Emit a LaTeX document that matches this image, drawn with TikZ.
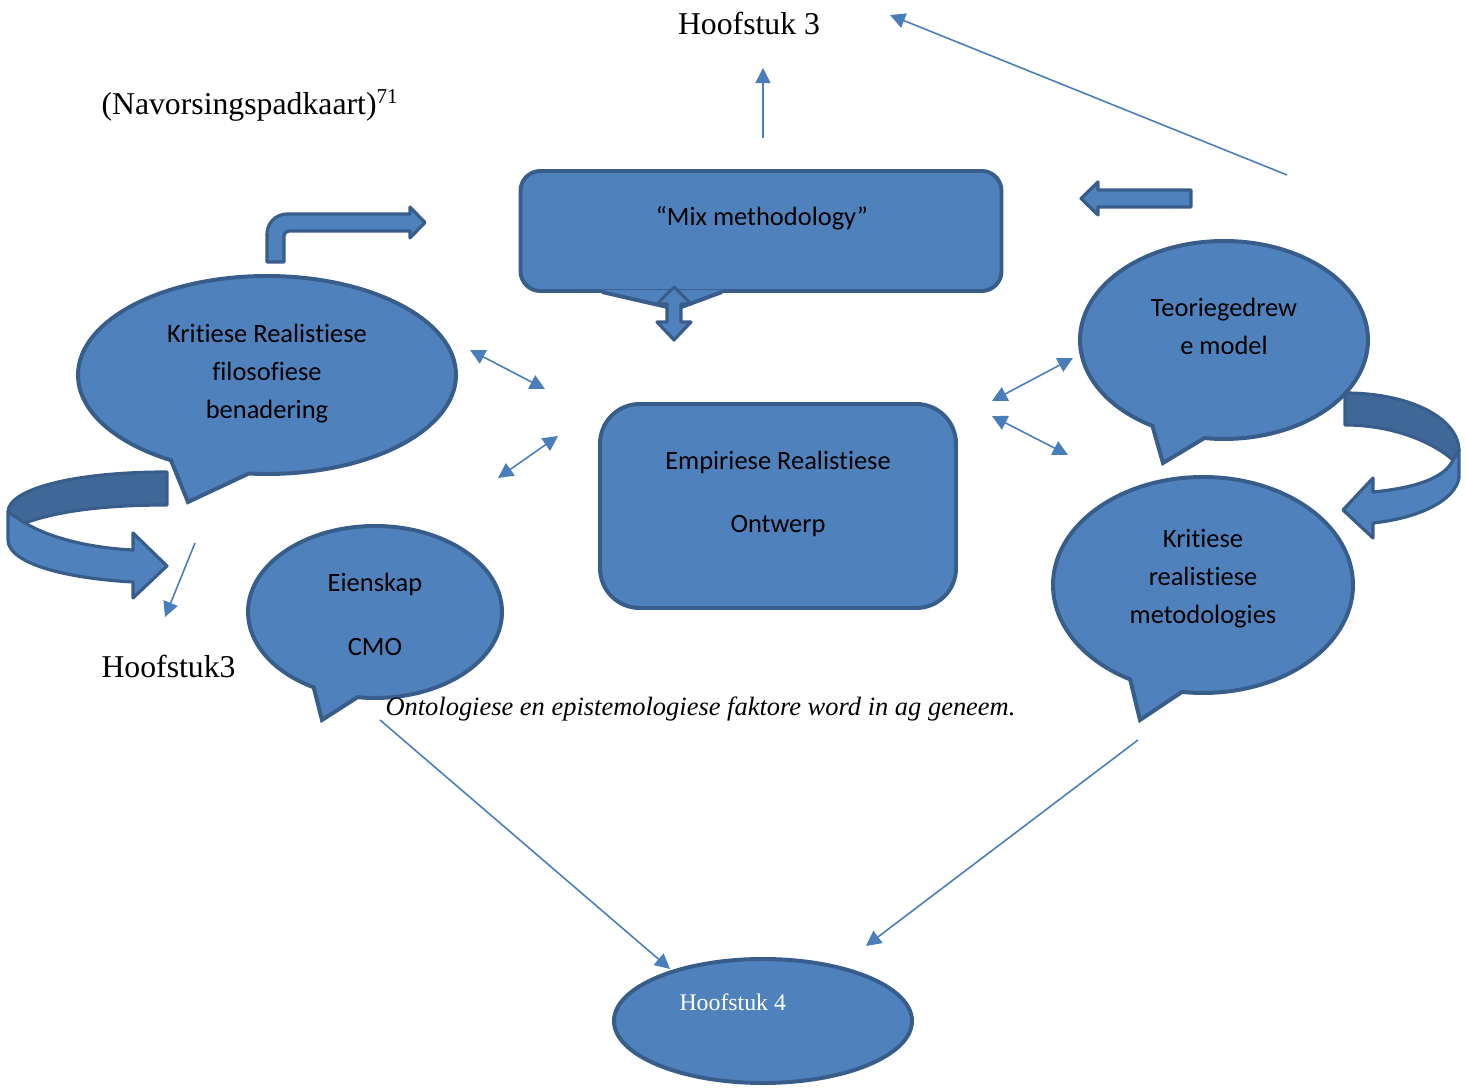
\documentclass[tikz,border=0pt]{standalone}
\usepackage{fontspec}
\setmainfont{Liberation Serif}
\newfontfamily\calibri[Ligatures={NoCommon,NoContextual}]{Carlito}
\usetikzlibrary{arrows.meta,positioning,shapes.geometric,shapes.callouts}
\definecolor{bodyblue}{HTML}{4F81BD}
\definecolor{edgeblue}{HTML}{385D8A}
\definecolor{foldblue}{HTML}{3F6899}
\definecolor{lineblue}{HTML}{4A7EBB}
\newcommand{\px}[1]{#1*0.378pt}
\tikzset{
	-tri/.style={draw=lineblue,line width=0.6pt,-{Triangle[length=5.7pt,width=5.7pt]}},
	tritri/.style={draw=lineblue,line width=0.6pt,{Triangle[length=5.7pt,width=5.7pt]}-{Triangle[length=5.7pt,width=5.7pt]}},
	blob/.style={draw=edgeblue,fill=bodyblue,line width=1.5pt},
	bubble/.style={blob,ellipse callout,inner sep=0pt},
	box/.style={blob,rectangle,inner sep=0pt},
	fold/.style={draw=edgeblue,fill=foldblue,line width=1.2pt,line join=round},
	band/.style={draw=edgeblue,fill=bodyblue,line width=1.2pt,line join=round},
	txt/.style={font=\calibri\fontsize{10}{14.4}\selectfont,align=center},
	serif/.style={font=\fontsize{12}{14}\selectfont,inner sep=0pt}
}
\begin{document}
\begin{tikzpicture}[x=0.378pt,y=-0.378pt]
			\useasboundingbox (0,0) rectangle (1466,1088);
			% speech bubbles and boxes
			\node[bubble,minimum width=\px{378},minimum height=\px{198},callout absolute pointer={(188,502)},callout pointer arc=25] (krit) at (267,375) {};
			\node[bubble,minimum width=\px{254},minimum height=\px{172},callout absolute pointer={(322,720)},callout pointer arc=21] (eien) at (375,612) {};
			\node[bubble,minimum width=\px{288},minimum height=\px{198},callout absolute pointer={(1163,463)},callout pointer arc=22] (teorie) at (1224,340) {};
			\node[bubble,minimum width=\px{300},minimum height=\px{216},callout absolute pointer={(1140,720)},callout pointer arc=21] (metod) at (1203,585) {};
			\node[blob,ellipse,minimum width=\px{298},minimum height=\px{124}] (hfs4) at (763,1021) {};
			\node[box,rounded corners=7.5pt,minimum width=\px{481},minimum height=\px{120}] (mix) at (761,231) {};
			\fill[bodyblue] (600,290) -- (676,309) -- (724,290) -- cycle;
			\draw[edgeblue,line width=1.5pt] (602,292) -- (676,309) -- (722,292);
			\node[box,rounded corners=15pt,minimum width=\px{356},minimum height=\px{204}] (emp) at (778,506) {};
			% texts
			\node[txt] (krit-t) at (267,374) {Kritiese Realistiese\\filosofiese\\benadering};
			\node[txt] (eien-t) at (375,614) {Eienskap\\[9.8pt]CMO};
			\node[txt] (teorie-t) at (1224,326) {Teoriegedrew\\e model};
			\node[txt] (metod-t) at (1203,579) {Kritiese\\realistiese\\metodologies};
			\node[txt] (mix-t) at (762,218) {“Mix methodology”};
			\node[txt] (emp-t) at (778,494) {Empiriese Realistiese\\[9.4pt]Ontwerp};
			\node[serif] (h3) at (749,23) {Hoofstuk 3};
			\node[serif,anchor=base west] (nav) at (101,115) {(Navorsingspadkaart)\textsuperscript{71}};
			\node[serif,anchor=base west] (h3b) at (101,678) {Hoofstuk3};
			\node[inner sep=0pt,anchor=base west,font=\itshape\fontsize{10}{12}\selectfont] (onto) at (385,716) {Ontologiese en epistemologiese faktore word in ag geneem.};
			\node[inner sep=0pt,anchor=base west,text=white,font=\fontsize{9}{11}\selectfont] (h4-t) at (679,1011) {Hoofstuk 4};
			% block arrows
			\draw[band] (267,262) -- (267,234) arc[start angle=180,end angle=270,radius=20] -- (410,214) -- (410,207) -- (425,222.5) -- (410,238) -- (410,231) -- (289,231) arc[start angle=270,end angle=180,radius=5] -- (284,262) -- cycle;
			\draw[band] (1081,198.5) -- (1098,182) -- (1098,190) -- (1191,190) -- (1191,207) -- (1098,207) -- (1098,215) -- cycle;
			\draw[band] (674,287) -- (691,304) -- (681,304) -- (681,322) -- (691,322) -- (674,340) -- (657,322) -- (667,322) -- (667,304) -- (657,304) -- cycle;
			\draw[fold] (167,472) .. controls (70,472) and (8,490) .. (8,512) -- (25,523) .. controls (60,510) and (110,505) .. (167,505) -- cycle;
			\draw[band] (8,512) -- (25,523) .. controls (50,538) and (90,548) .. (133,550) -- (133,533) -- (167,566) -- (133,598) -- (133,582) .. controls (60,578) and (8,562) .. (8,540) -- cycle;
			\draw[fold] (1345,393) .. controls (1410,393) and (1458,418) .. (1459,450) -- (1453,460) .. controls (1430,440) and (1390,425) .. (1345,425) -- cycle;
			\draw[band] (1453,460) -- (1459,450) -- (1459,478) .. controls (1455,500) and (1420,518) .. (1373,523) -- (1373,538) -- (1343,510) -- (1373,478) -- (1373,492) .. controls (1415,488) and (1445,478) .. (1453,460) -- cycle;
			% thin arrows
			\coordinate (up-a) at (763,138);
			\coordinate (up-b) at (763,68);
			\coordinate (far-a) at (1287,175);
			\coordinate (far-b) at (890,15);
			\coordinate (down-a) at (195,543);
			\coordinate (down-b) at (165,617);
			\coordinate (eien-a) at (380,720);
			\coordinate (metod-a) at (1138,740);
			\draw[-tri] (up-a) -- (up-b);
			\draw[-tri] (far-a) -- (far-b);
			\draw[-tri] (down-a) -- (down-b);
			\draw[-tri] (eien-a) -- (670,969);
			\draw[-tri] (metod-a) -- (866,946);
			\draw[tritri] (470,350) -- (545,389);
			\draw[tritri] (498,478) -- (558,436);
			\draw[tritri] (992,401) -- (1073,358);
			\draw[tritri] (992,416) -- (1068,455);
		\end{tikzpicture}
\end{document}
